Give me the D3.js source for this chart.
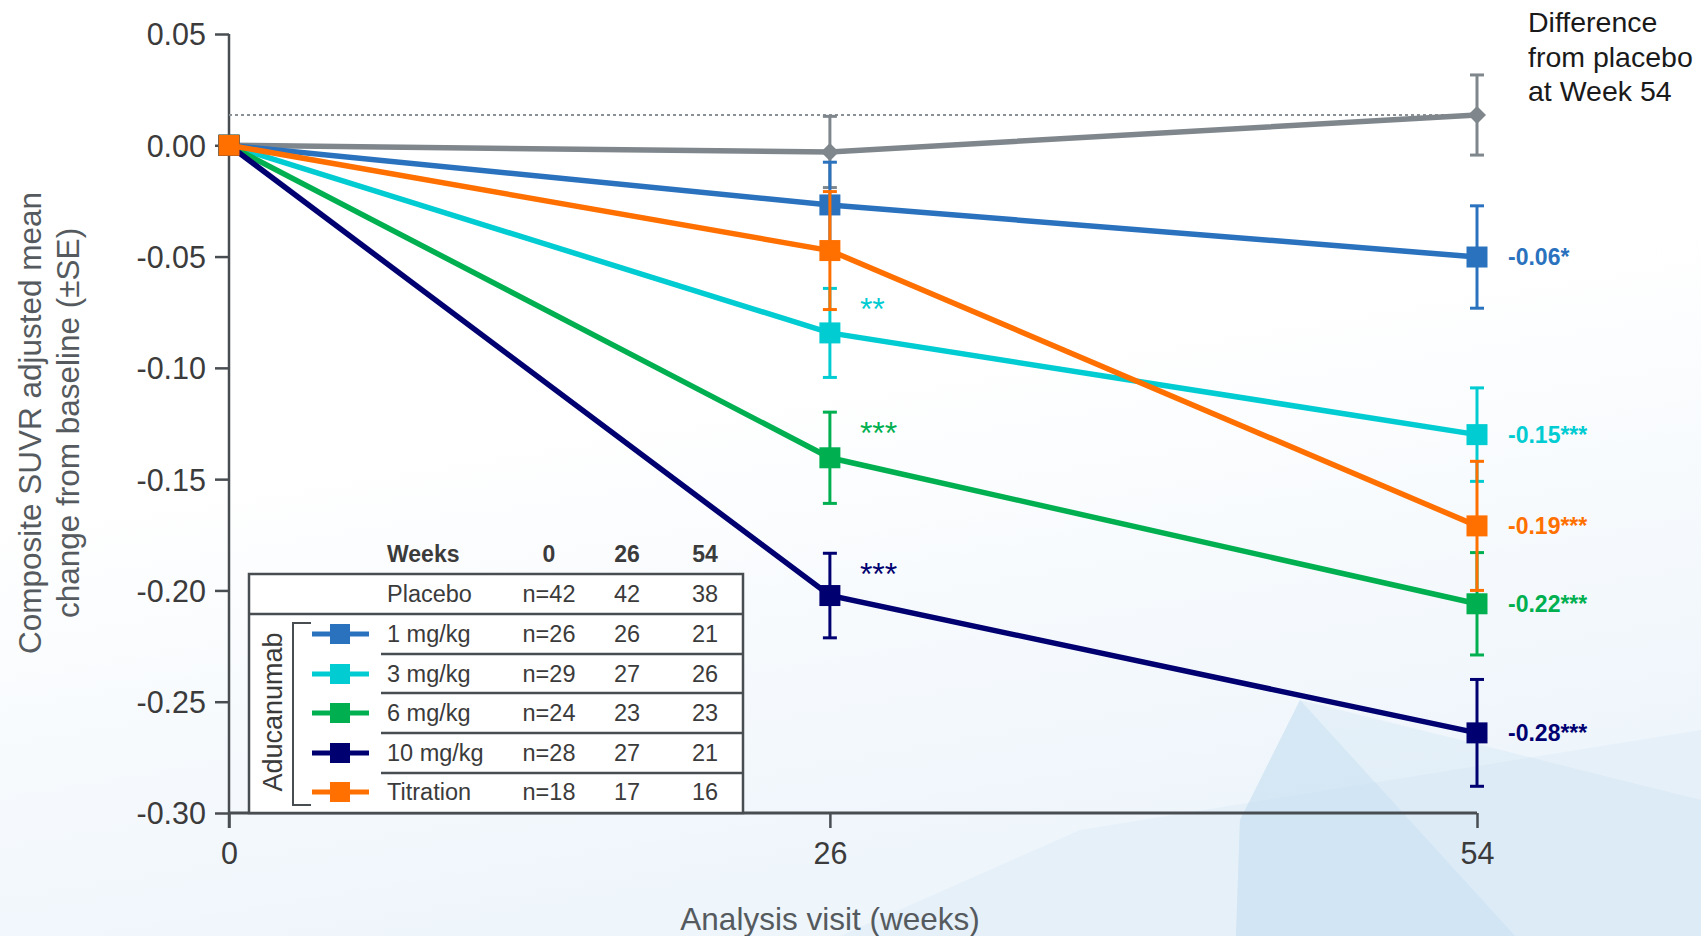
<!doctype html>
<html lang="en">
  <head>
    <meta charset="utf-8">
    <title>Composite SUVR change from baseline</title>
    <style>
      body { margin: 0; background: #ffffff; }
      svg { display: block; font-family: Arial, "Liberation Sans", sans-serif; }
    </style>
  </head>
  <body>
    <svg id="chart" width="1701" height="936"></svg>
    <script src="https://cdn.jsdelivr.net/npm/d3@7"></script>
    <script>

      // visits (weeks)
      var weeks = [0, 26, 54];
      var xTicks = [0, 26, 54];
      var yTicks = [0.05, 0.00, -0.05, -0.10, -0.15, -0.20, -0.25, -0.30];

      // adjusted mean change from baseline and SE, per group
      var groupNames = ["Placebo", "1 mg/kg", "3 mg/kg", "6 mg/kg", "10 mg/kg", "Titration"];
      var placeboMean = [0, -0.003, 0.0136];
      var placeboSE = [0, 0.016, 0.018];
      var dose1Mean = [0, -0.0268, -0.0502];
      var dose1SE = [0, 0.0192, 0.023];
      var dose3Mean = [0, -0.0843, -0.130];
      var dose3SE = [0, 0.020, 0.021];
      var dose6Mean = [0, -0.1404, -0.206];
      var dose6SE = [0, 0.0205, 0.023];
      var dose10Mean = [0, -0.2023, -0.264];
      var dose10SE = [0, 0.019, 0.024];
      var titrationMean = [0, -0.0473, -0.171];
      var titrationSE = [0, 0.0265, 0.029];

      // significance marks next to week 26, difference labels at week 54
      var week26Stars = ["", "", "**", "***", "***", ""];
      var diffLabels = ["", "-0.06*", "-0.15***", "-0.22***", "-0.28***", "-0.19***"];

      // n per visit (table)
      var tableHeader = ["Weeks", "0", "26", "54"];
      var nWeek0 = ["n=42", "n=26", "n=29", "n=24", "n=28", "n=18"];
      var nWeek26 = [42, 26, 27, 23, 27, 17];
      var nWeek54 = [38, 21, 26, 23, 21, 16];

      var colors = ["#7f878d", "#2a72be", "#00ccd2", "#00b050", "#000070", "#ff7000"];

      var allMeans = [placeboMean, dose1Mean, dose3Mean, dose6Mean, dose10Mean, titrationMean];
      var allSE = [placeboSE, dose1SE, dose3SE, dose6SE, dose10SE, titrationSE];

      var svg = d3.select("#chart");
      var textColor = "#3b3b3b";
      var axisColor = "#484d52";

      // background wash, bottom right
      var defs = svg.append("defs");
      var grad = defs.append("linearGradient").attr("id", "bg")
          .attr("x1", 0).attr("y1", 0).attr("x2", 0.3).attr("y2", 1);
      grad.append("stop").attr("offset", "0.5").attr("stop-color", "#ffffff");
      grad.append("stop").attr("offset", "1").attr("stop-color", "#eef5fb");
      svg.append("rect").attr("width", 1701).attr("height", 936).attr("fill", "url(#bg)");
      svg.append("polygon")
          .attr("points", "840,936 1080,830 1701,730 1701,936")
          .attr("fill", "#d6e9f6").attr("opacity", 0.35);
      svg.append("polygon")
          .attr("points", "1236,936 1240,820 1300,700 1701,800 1701,936")
          .attr("fill", "#c9e2f3").attr("opacity", 0.3);
      svg.append("polygon")
          .attr("points", "1236,936 1240,820 1300,700 1515,936")
          .attr("fill", "#b9d9ef").attr("opacity", 0.35);

      var x = d3.scaleLinear().domain([0, 54]).range([229, 1477]);
      var y = d3.scaleLinear().domain([0.05, -0.30]).range([34, 813]);

      // axes
      var yAxis = svg.append("g").attr("transform", "translate(229,0)")
          .call(d3.axisLeft(y).tickValues(yTicks).tickSize(14).tickPadding(9)
              .tickFormat(function (d) { return d3.format(".2f")(d).replace("\u2212", "-"); }));
      var xAxis = svg.append("g").attr("transform", "translate(0,813)")
          .call(d3.axisBottom(x).tickValues(xTicks).tickSize(15).tickPadding(14));
      [yAxis, xAxis].forEach(function (g) {
          g.select(".domain").remove();
          g.selectAll("line").attr("stroke", axisColor).attr("stroke-width", 2.5);
          g.selectAll("text").attr("fill", textColor).style("font-size", "30.5px");
      });
      yAxis.selectAll("text").attr("dy", "0.36em");
      svg.append("line").attr("x1", 229).attr("x2", 229).attr("y1", 34).attr("y2", 828)
          .attr("stroke", axisColor).attr("stroke-width", 2.5);
      svg.append("line").attr("x1", 229).attr("x2", 1477).attr("y1", 813).attr("y2", 813)
          .attr("stroke", axisColor).attr("stroke-width", 3);

      // axis titles
      svg.append("text")
          .attr("transform", "translate(41,423) rotate(-90)")
          .attr("text-anchor", "middle").attr("fill", "#555a5e").style("font-size", "31.5px")
          .text("Composite SUVR adjusted mean");
      svg.append("text")
          .attr("transform", "translate(79,423) rotate(-90)")
          .attr("text-anchor", "middle").attr("fill", "#555a5e").style("font-size", "31.5px")
          .text("change from baseline (\u00b1SE)");
      svg.append("text")
          .attr("x", 830).attr("y", 930)
          .attr("text-anchor", "middle").attr("fill", "#555a5e").style("font-size", "31.5px")
          .text("Analysis visit (weeks)");

      // dotted reference at placebo week 54
      svg.append("line")
          .attr("x1", x(0)).attr("x2", x(54))
          .attr("y1", y(placeboMean[2])).attr("y2", y(placeboMean[2]))
          .attr("stroke", "#8a9196").attr("stroke-width", 2).attr("stroke-dasharray", "3,3");

      // series
      var line = d3.line().x(function (d) { return x(d.week); }).y(function (d) { return y(d.mean); });

      for (var g = 0; g < groupNames.length; g++) {
          var pts = weeks.map(function (w, i) {
              return { week: w, mean: allMeans[g][i], se: allSE[g][i] };
          });
          var layer = svg.append("g");
          layer.append("path").datum(pts)
              .attr("d", line).attr("fill", "none")
              .attr("stroke", colors[g]).attr("stroke-width", 5.5);

          var bars = pts.filter(function (d) { return d.se > 0; });
          bars.forEach(function (d) {
              var cx = x(d.week);
              var top = y(d.mean + d.se), bot = y(d.mean - d.se);
              layer.append("line").attr("x1", cx).attr("x2", cx).attr("y1", top).attr("y2", bot)
                  .attr("stroke", colors[g]).attr("stroke-width", 3);
              [top, bot].forEach(function (yy) {
                  layer.append("line").attr("x1", cx - 7).attr("x2", cx + 7).attr("y1", yy).attr("y2", yy)
                      .attr("stroke", colors[g]).attr("stroke-width", 3);
              });
          });

          pts.forEach(function (d) {
              if (g == 0) {
                  if (d.week == 0) return;
                  layer.append("path")
                      .attr("transform", "translate(" + x(d.week) + "," + y(d.mean) + ")")
                      .attr("d", "M0,-9L9,0L0,9L-9,0Z").attr("fill", colors[g]);
              } else {
                  layer.append("rect")
                      .attr("x", x(d.week) - 10.5).attr("y", y(d.mean) - 10.5)
                      .attr("width", 21).attr("height", 21).attr("fill", colors[g]);
              }
          });

          if (week26Stars[g] != "") {
              layer.append("text")
                  .attr("x", x(26) + 30).attr("y", y(allMeans[g][1] + allSE[g][1]) + 32)
                  .attr("fill", colors[g]).style("font-size", "32px")
                  .text(week26Stars[g]);
          }
          if (diffLabels[g] != "") {
              layer.append("text")
                  .attr("x", x(54) + 31).attr("y", y(allMeans[g][2]))
                  .attr("dy", "0.36em").attr("fill", colors[g])
                  .style("font-size", "23px").style("font-weight", "bold")
                  .text(diffLabels[g]);
          }
      }

      // difference heading
      ["Difference", "from placebo", "at Week 54"].forEach(function (t, i) {
          svg.append("text").attr("x", 1528).attr("y", 32 + i * 34.5)
              .attr("fill", "#1a1a1a").style("font-size", "28.5px").text(t);
      });

      // n table
      var table = svg.append("g");
      var colX = [387, 549, 627, 705];
      var rowY = [594, 634, 674, 713, 753, 792];
      var sepY = [614, 654, 693, 733, 773];

      tableHeader.forEach(function (t, i) {
          table.append("text").attr("x", colX[i]).attr("y", 554).attr("dy", "0.36em")
              .attr("text-anchor", i == 0 ? "start" : "middle")
              .attr("fill", textColor).style("font-size", "23px").style("font-weight", "bold")
              .text(t);
      });
      table.append("rect").attr("x", 249).attr("y", 574).attr("width", 494).attr("height", 239)
          .attr("fill", "#ffffff").attr("stroke", axisColor).attr("stroke-width", 2.5);
      sepY.forEach(function (yy, i) {
          table.append("line").attr("x1", i == 0 ? 249 : 381).attr("x2", 743)
              .attr("y1", yy).attr("y2", yy).attr("stroke", axisColor).attr("stroke-width", 2.5);
      });
      groupNames.forEach(function (name, i) {
          var cells = [name, nWeek0[i], nWeek26[i], nWeek54[i]];
          cells.forEach(function (c, j) {
              table.append("text").attr("x", colX[j]).attr("y", rowY[i]).attr("dy", "0.36em")
                  .attr("text-anchor", j == 0 ? "start" : "middle")
                  .attr("fill", textColor).style("font-size", "23.5px")
                  .text(c);
          });
          if (i > 0) {
              table.append("line").attr("x1", 312).attr("x2", 369).attr("y1", rowY[i]).attr("y2", rowY[i])
                  .attr("stroke", colors[i]).attr("stroke-width", 5);
              table.append("rect").attr("x", 330).attr("y", rowY[i] - 10).attr("width", 20).attr("height", 20)
                  .attr("fill", colors[i]);
          }
      });
      // bracket + Aducanumab
      table.append("path").attr("d", "M311,623H293V805H311")
          .attr("fill", "none").attr("stroke", axisColor).attr("stroke-width", 2);
      table.append("text")
          .attr("transform", "translate(272,712) rotate(-90)")
          .attr("text-anchor", "middle").attr("dy", "0.36em")
          .attr("fill", textColor).style("font-size", "27px")
          .text("Aducanumab");

    </script>
  </body>
</html>
